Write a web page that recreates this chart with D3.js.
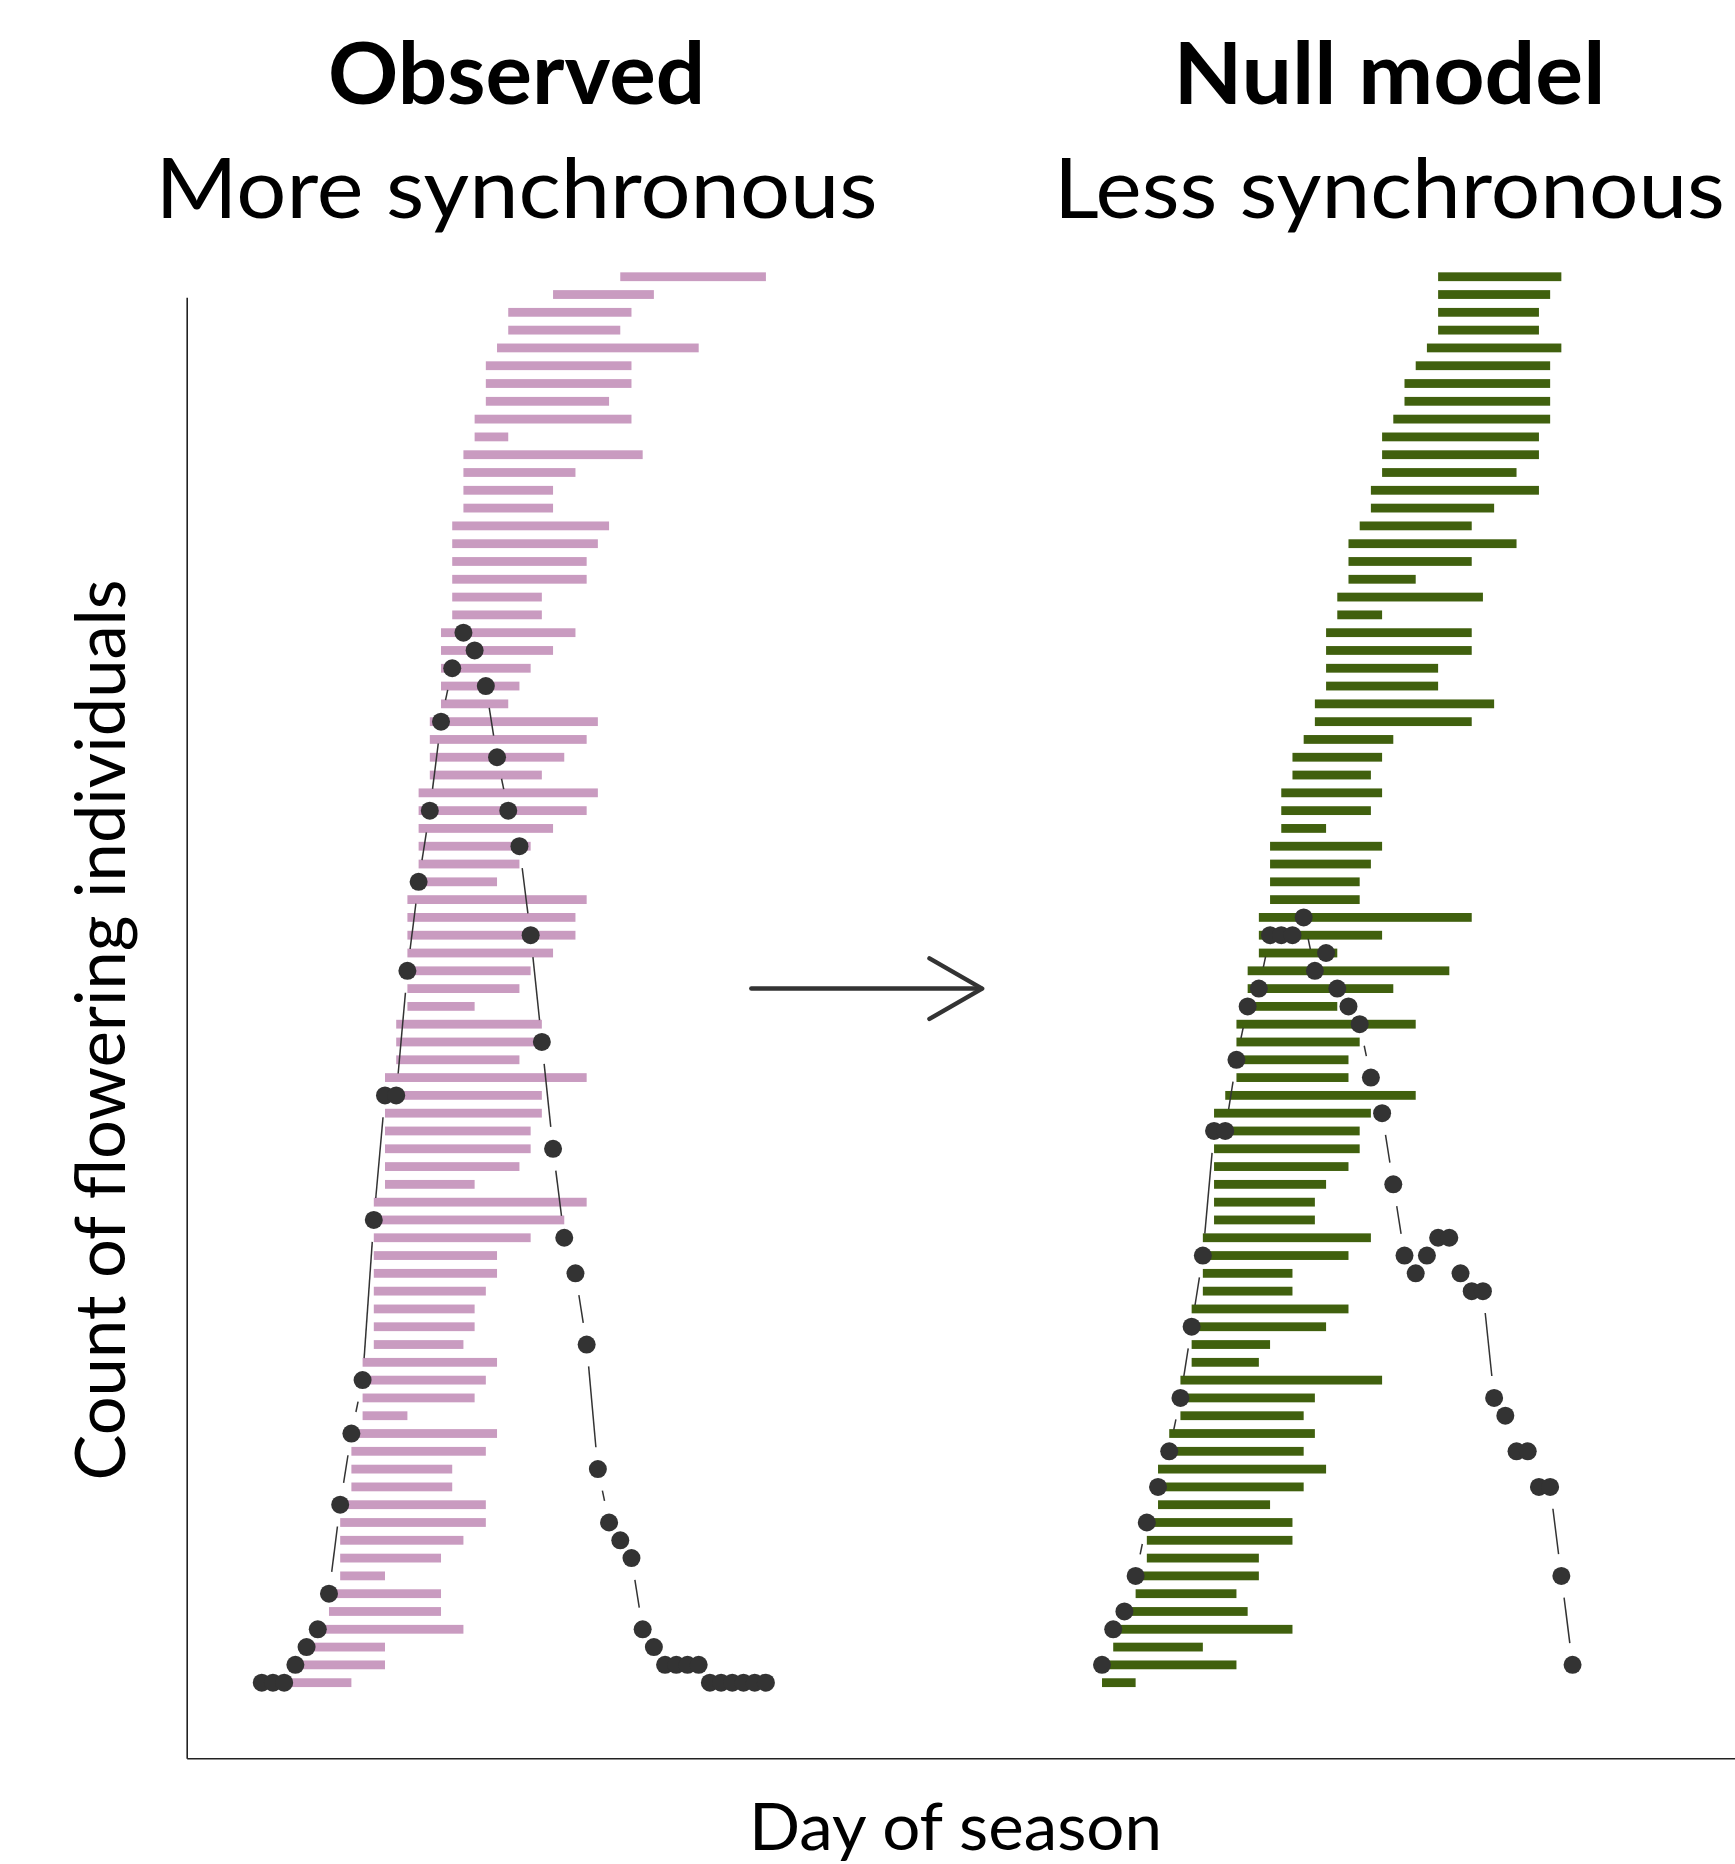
<!DOCTYPE html>
<html>
<head>
<meta charset="utf-8">
<script src="https://cdn.jsdelivr.net/npm/d3@7"></script>
<style>
  body { margin: 0; background: #fff; }
  text { font-family: Lato, "Open Sans", sans-serif; fill: #000; }
</style>
</head>
<body>
<div id="chart"></div>
<script>

// flowering periods, one row per individual, top row first (start day, end day)
const obsStart = [30,24,20,20,19,18,18,18,17,17,16,16,16,16,15,15,15,15,15,15,
                  14,14,14,14,14,13,13,13,13,12,12,12,12,12,12,11,11,11,11,11,
                  11,11,10,10,10,9,9,9,9,9,9,9,8,8,8,8,8,8,8,8,
                  8,7,7,7,7,6,6,6,6,5,5,5,5,5,4,4,3,2,1,0]
const obsEnd   = [43,33,31,30,37,31,31,29,31,20,32,26,24,24,29,28,27,27,23,23,
                  26,24,22,21,20,28,27,25,23,28,27,24,22,21,19,27,26,26,24,22,
                  21,17,23,23,21,27,23,23,22,22,21,17,27,25,22,19,19,18,17,17,
                  16,19,18,17,11,19,18,15,15,18,18,16,14,9,14,14,16,9,9,6]

const nullStart = [30,30,30,30,29,28,27,27,26,25,25,25,24,24,23,22,22,22,21,21,
                   20,20,20,20,19,19,18,17,17,16,16,16,15,15,15,15,14,14,14,13,
                   13,13,12,12,12,12,11,10,10,10,10,10,10,10,9,9,9,9,8,8,
                   8,8,7,7,7,6,6,5,5,5,4,4,4,3,3,2,1,1,0,0]
const nullEnd   = [41,40,39,39,41,40,40,40,40,39,39,37,39,35,33,37,33,28,34,25,
                   33,33,30,30,35,33,26,25,24,25,24,20,25,24,23,23,33,25,21,31,
                   26,21,28,23,22,22,28,24,23,23,22,20,19,19,24,22,17,17,22,20,
                   15,14,25,19,18,19,18,20,18,15,17,17,14,14,12,13,17,9,12,3]

// daily count of flowering individuals
const obsFirstDay = -2
const obsCounts = [0,0,0,1,2,3,5,10,14,17,26,33,33,40,45,49,54,57,59,58,
                   56,52,49,47,42,36,30,25,23,19,12,9,8,7,3,2,1,1,1,1,
                   0,0,0,0,0,0]
const nullFirstDay = 0
const nullCounts = [1,3,4,6,9,11,13,16,20,24,31,31,35,38,39,42,42,42,43,40,
                    41,39,38,37,34,32,28,24,23,24,25,25,23,22,22,16,15,13,13,11,
                    11,6,1]

const nullShift = 73   // right panel sits 73 days further along the axis

const headings = ['Observed', 'Null model']
const subheadings = ['More synchronous', 'Less synchronous']


let dim = {width: 1735, height: 1864}

let svg = d3.select('#chart').append('svg')
    .attr('width', dim.width)
    .attr('height', dim.height)

svg.append('rect')
    .attr('width', dim.width)
    .attr('height', dim.height)
    .attr('fill', '#fff')

let x = d3.scaleLinear()
    .domain([-8.7, 129.5])
    .range([186.7, 1735])

let y = d3.scaleLinear()
    .domain([-4.25, 77.85])
    .range([1758.3, 297.2])

// axes: plain lines, no ticks
svg.append('g')
    .attr('class', 'axis')
    .attr('transform', `translate(${x.range()[0]},0)`)
    .call(d3.axisLeft(y).tickValues([]).tickSizeOuter(0))

svg.append('g')
    .attr('class', 'axis')
    .attr('transform', `translate(0,${y.range()[0]})`)
    .call(d3.axisBottom(x).tickValues([]).tickSizeOuter(0))

svg.selectAll('.axis path')
    .attr('stroke', '#222')
    .attr('stroke-width', 1.6)

const barH = 8.8

function drawPanel(starts, ends, firstDay, counts, shift, color) {
  let n = starts.length
  let rows = starts.map((s, i) => ({start: s + shift, end: ends[i] + shift, level: n - 1 - i}))

  let g = svg.append('g')

  g.selectAll('rect.bar')
    .data(rows)
    .enter()
    .append('rect')
    .attr('class', 'bar')
    .attr('x', d => x(d.start))
    .attr('y', d => y(d.level) - barH / 2)
    .attr('width', d => x(d.end) - x(d.start))
    .attr('height', barH)
    .attr('fill', color)

  let pts = counts.map((c, i) => [x(firstDay + i + shift), y(c)])

  // type="b" style line: segments stop short of each point
  let gap = 22
  let segs = []
  for (let i = 1; i < pts.length; i++) {
    let [x1, y1] = pts[i - 1], [x2, y2] = pts[i]
    let len = Math.hypot(x2 - x1, y2 - y1)
    if (len <= 2 * gap) continue
    let ux = (x2 - x1) / len, uy = (y2 - y1) / len
    segs.push([x1 + ux * gap, y1 + uy * gap, x2 - ux * gap, y2 - uy * gap])
  }

  g.selectAll('line.seg')
    .data(segs)
    .enter()
    .append('line')
    .attr('class', 'seg')
    .attr('x1', d => d[0]).attr('y1', d => d[1])
    .attr('x2', d => d[2]).attr('y2', d => d[3])
    .attr('stroke', '#333')
    .attr('stroke-width', 1.5)

  g.selectAll('circle')
    .data(pts)
    .enter()
    .append('circle')
    .attr('cx', d => d[0])
    .attr('cy', d => d[1])
    .attr('r', 9)
    .attr('fill', '#333')
}

drawPanel(obsStart, obsEnd, obsFirstDay, obsCounts, 0, '#c99bc0')
drawPanel(nullStart, nullEnd, nullFirstDay, nullCounts, nullShift, '#40600e')

// arrow between panels
let arrow = svg.append('g')
    .attr('stroke', '#333')
    .attr('stroke-width', 4.5)
    .attr('stroke-linecap', 'round')
    .attr('stroke-linejoin', 'round')
    .attr('fill', 'none')

arrow.append('line')
    .attr('x1', x(41.7)).attr('y1', y(39))
    .attr('x2', x(62.2)).attr('y2', y(39))

arrow.append('path')
    .attr('d', d3.line()([[x(57.6), y(40.7)], [x(62.3), y(39)], [x(57.6), y(37.3)]]))

// titles
let centers = [516.6, 1389.4]
let headW = [377, 432]
let subW = [722, 671]

svg.selectAll('text.head')
    .data(headings)
    .enter()
    .append('text')
    .attr('class', 'head')
    .attr('x', (d, i) => centers[i])
    .attr('y', 104)
    .attr('text-anchor', 'middle')
    .attr('font-size', 86)
    .attr('font-weight', 'bold')
    .attr('textLength', (d, i) => headW[i])
    .attr('lengthAdjust', 'spacingAndGlyphs')
    .text(d => d)

svg.selectAll('text.sub')
    .data(subheadings)
    .enter()
    .append('text')
    .attr('class', 'sub')
    .attr('x', (d, i) => centers[i])
    .attr('y', 217.6)
    .attr('text-anchor', 'middle')
    .attr('font-size', 84)
    .attr('textLength', (d, i) => subW[i])
    .attr('lengthAdjust', 'spacingAndGlyphs')
    .text(d => d)

svg.append('text')
    .attr('transform', 'translate(125,1030) rotate(-90)')
    .attr('text-anchor', 'middle')
    .attr('font-size', 70)
    .attr('textLength', 901)
    .attr('lengthAdjust', 'spacingAndGlyphs')
    .text('Count of flowering individuals')

svg.append('text')
    .attr('x', 955.5)
    .attr('y', 1850)
    .attr('text-anchor', 'middle')
    .attr('font-size', 65)
    .attr('textLength', 413)
    .attr('lengthAdjust', 'spacingAndGlyphs')
    .text('Day of season')

</script>
</body>
</html>
